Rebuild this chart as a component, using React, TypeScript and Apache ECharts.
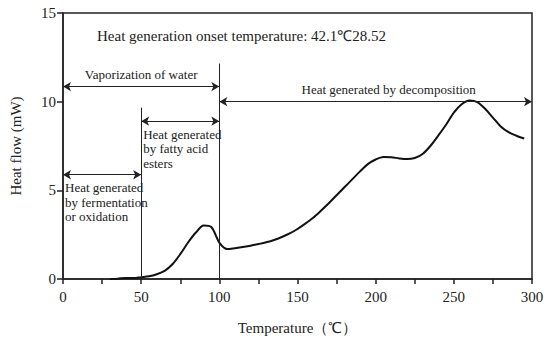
import React, { useEffect, useRef } from "react";
import * as echarts from "echarts";

const temperature = [30, 35, 40, 45, 50, 55, 60, 65, 70, 75, 80, 85, 90, 95, 100, 105, 110, 115, 120, 125, 130, 135, 140, 145, 150, 155, 160, 165, 170, 175, 180, 185, 190, 195, 200, 205, 210, 215, 220, 225, 230, 235, 240, 245, 250, 255, 260, 265, 270, 275, 280, 285, 290, 295];
const heatFlow = [0, 0.02, 0.06, 0.05, 0.1, 0.15, 0.27, 0.46, 0.83, 1.4, 2.06, 2.62, 3.02, 2.92, 2.05, 1.69, 1.74, 1.8, 1.88, 1.97, 2.07, 2.2, 2.37, 2.57, 2.82, 3.12, 3.45, 3.85, 4.27, 4.72, 5.17, 5.62, 6.07, 6.48, 6.74, 6.88, 6.87, 6.8, 6.76, 6.82, 7.05, 7.5, 8.08, 8.7, 9.38, 9.85, 10.06, 9.98, 9.6, 9.1, 8.6, 8.28, 8.08, 7.92];

const titleText = "Heat generation onset temperature: 42.1℃28.52";
const xTicks = [0, 50, 100, 150, 200, 250, 300];
const yTicks = [0, 5, 10, 15];

// vertical separators: [x, top value]
const dividerX = [50, 100];
const dividerTop = [9.66, 12.15];

// range arrows
const arrowStart = [0, 50, 0, 100];
const arrowEnd = [100, 100, 50, 300];
const arrowY = [10.85, 8.9, 5.88, 10.0];
const arrowText = [
  "Vaporization of water",
  "Heat generated\nby fatty acid\nesters",
  "Heat generated\nby fermentation\nor oxidation",
  "Heat generated by decomposition",
];
const arrowLabelPos = ["insideMiddleTop", "insideStartBottom", "insideStartBottom", "insideMiddleTop"];

const FONT = "'Liberation Serif', 'Times New Roman', serif";

export default function App() {
  const ref = useRef<HTMLDivElement>(null);
  useEffect(() => {
    if (!ref.current) return;
    const chart = echarts.init(ref.current, undefined, { renderer: "svg" });
    const lineData = temperature.map((t, i) => [t, heatFlow[i]]);
    const markData: any[] = [];
    dividerX.forEach((x, i) => {
      markData.push([
        { coord: [x, 0], symbol: "none" },
        { coord: [x, dividerTop[i]], symbol: "none" },
      ]);
    });
    arrowStart.forEach((s, i) => {
      const startBottom = arrowLabelPos[i] === "insideStartBottom";
      const label: any = {
        show: true,
        formatter: arrowText[i],
        position: arrowLabelPos[i],
        distance: startBottom ? [2, 6] : 5,
        fontFamily: FONT,
        fontSize: 13,
        lineHeight: 14.5,
        color: "#222",
      };
      if (startBottom) label.align = "left";
      if (i === 3) label.offset = [13, 0];
      markData.push([
        { coord: [s, arrowY[i]], label },
        { coord: [arrowEnd[i], arrowY[i]] },
      ]);
    });
    chart.setOption({
      animation: false,
      title: {
        text: titleText,
        left: 92,
        top: 23,
        textStyle: { fontFamily: FONT, fontSize: 15, fontWeight: "normal", color: "#222" },
      },
      grid: {
        left: 58,
        right: 18,
        top: 13,
        bottom: 55.5,
        show: true,
        borderColor: "#222",
        borderWidth: 1.5,
      },
      xAxis: {
        type: "value",
        min: 0,
        max: 300,
        interval: 25,
        name: "Temperature（℃）",
        nameLocation: "middle",
        nameGap: 41,
        nameTextStyle: { fontFamily: FONT, fontSize: 15, color: "#222" },
        axisLine: { show: true, lineStyle: { color: "#222", width: 1.5 } },
        axisTick: { show: true, length: 5, lineStyle: { color: "#222", width: 1.5 } },
        axisLabel: {
          fontFamily: FONT,
          fontSize: 15,
          color: "#222",
          margin: 10,
          formatter: (v: number) => (xTicks.includes(v) ? String(v) : ""),
        },
        splitLine: { show: false },
      },
      yAxis: {
        type: "value",
        min: 0,
        max: 15,
        interval: 5,
        name: "Heat flow (mW)",
        nameLocation: "middle",
        nameGap: 40,
        nameTextStyle: { fontFamily: FONT, fontSize: 15, color: "#222" },
        axisLine: { show: true, lineStyle: { color: "#222", width: 1.5 } },
        axisTick: { show: true, length: 6, lineStyle: { color: "#222", width: 1.5 } },
        axisLabel: {
          fontFamily: FONT,
          fontSize: 15,
          color: "#222",
          margin: 7,
          formatter: (v: number) => (yTicks.includes(v) ? String(v) : ""),
        },
        splitLine: { show: false },
      },
      series: [
        {
          type: "line",
          data: lineData,
          smooth: 0.3,
          showSymbol: false,
          lineStyle: { color: "#111", width: 2 },
          markLine: {
            silent: true,
            symbol: ["arrow", "arrow"],
            symbolSize: [7, 8],
            lineStyle: { color: "#222", width: 1, type: "solid" },
            label: { show: false },
            data: markData,
          },
        },
      ],
    });
    return () => chart.dispose();
  }, []);
  return (
    <div
      ref={ref}
      style={{ position: "absolute", left: 0, top: 0, width: 550, height: 340 }}
    />
  );
}
